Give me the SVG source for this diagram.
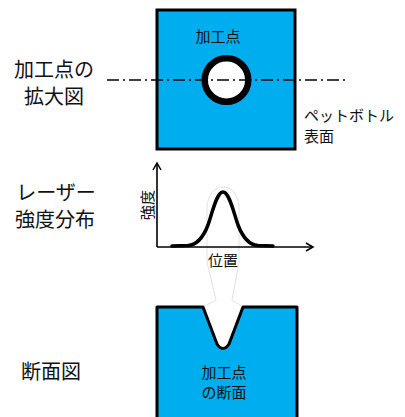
<svg xmlns="http://www.w3.org/2000/svg" width="405" height="417" viewBox="0 0 405 417">
<style>
.t{font-family:"Noto Sans CJK JP","Noto Sans",sans-serif;fill:#111}
.big{font-size:20px}
.sm{font-size:15px}
.blk{stroke:#000;fill:none}
.ghost{stroke:#e2e2e2;fill:none;stroke-width:1}
</style>
<defs>
<marker id="ah" markerWidth="10" markerHeight="10" refX="8" refY="5" orient="auto" markerUnits="userSpaceOnUse">
<path d="M1,1 L8,5 L1,9" fill="none" stroke="#000" stroke-width="1.5"/>
</marker>
</defs>
<rect width="405" height="417" fill="#fff"/>
<g id="labels-left">
<text class="t big" x="54" y="77" text-anchor="middle">加工点の</text>
<text class="t big" x="54" y="104" text-anchor="middle">拡大図</text>
<text class="t big" x="56" y="200" text-anchor="middle">レーザー</text>
<text class="t big" x="55" y="227" text-anchor="middle">強度分布</text>
<text class="t big" x="51" y="379" text-anchor="middle">断面図</text>
</g>
<g id="top-square">
<rect x="157" y="10" width="138" height="139" fill="#00ADEF" stroke="#000" stroke-width="3"/>
<text class="t sm" x="218" y="42" text-anchor="middle">加工点</text>
<circle cx="226.5" cy="80" r="21.8" fill="#fff" stroke="#000" stroke-width="6.5"/>
</g>
<g id="bottle-label">
<text class="t sm" x="304" y="121">ペットボトル</text>
<text class="t sm" x="304" y="142">表面</text>
</g>
<g id="connectors">
<line x1="107" y1="80" x2="345" y2="80" stroke="#000" stroke-width="1.3" stroke-dasharray="12,4,2,4"/>
<path class="ghost" d="M207,246 L207,205 C210,190 217,187 223,187 C229,187 236,190 239,205 L239,246 M207,246 L207,262 L216,300 L203,307 M239,246 L239,262 L232,300 L243,307"/>
<line class="blk" x1="157" y1="247" x2="157" y2="163" stroke-width="1.6" marker-end="url(#ah)"/>
<line class="blk" x1="157" y1="247" x2="313" y2="247" stroke-width="1.6" marker-end="url(#ah)"/>
<path class="blk" stroke-width="3.5" stroke-linecap="round" d="M172,246 L188,245.5 C196,245 203,238 208,225 C213,210 217,192 223,192 C229,192 233,210 238,225 C243,238 250,245 258,245.5 L273,246"/>
</g>
<g id="graph-labels">
<text class="t sm" transform="translate(153,205) rotate(-90)" text-anchor="middle">強度</text>
<text class="t sm" x="223" y="266" text-anchor="middle">位置</text>
</g>
<g id="bottom-section">
<path d="M157,307 L203,307 L217,344 Q223,353 229,344 L243,307 L297,307 L297,425 L157,425 Z" fill="#00ADEF" stroke="#000" stroke-width="3" stroke-linejoin="round"/>
<text class="t sm" x="224" y="378" text-anchor="middle">加工点</text>
<text class="t sm" x="224" y="398" text-anchor="middle">の断面</text>
</g>
</svg>
